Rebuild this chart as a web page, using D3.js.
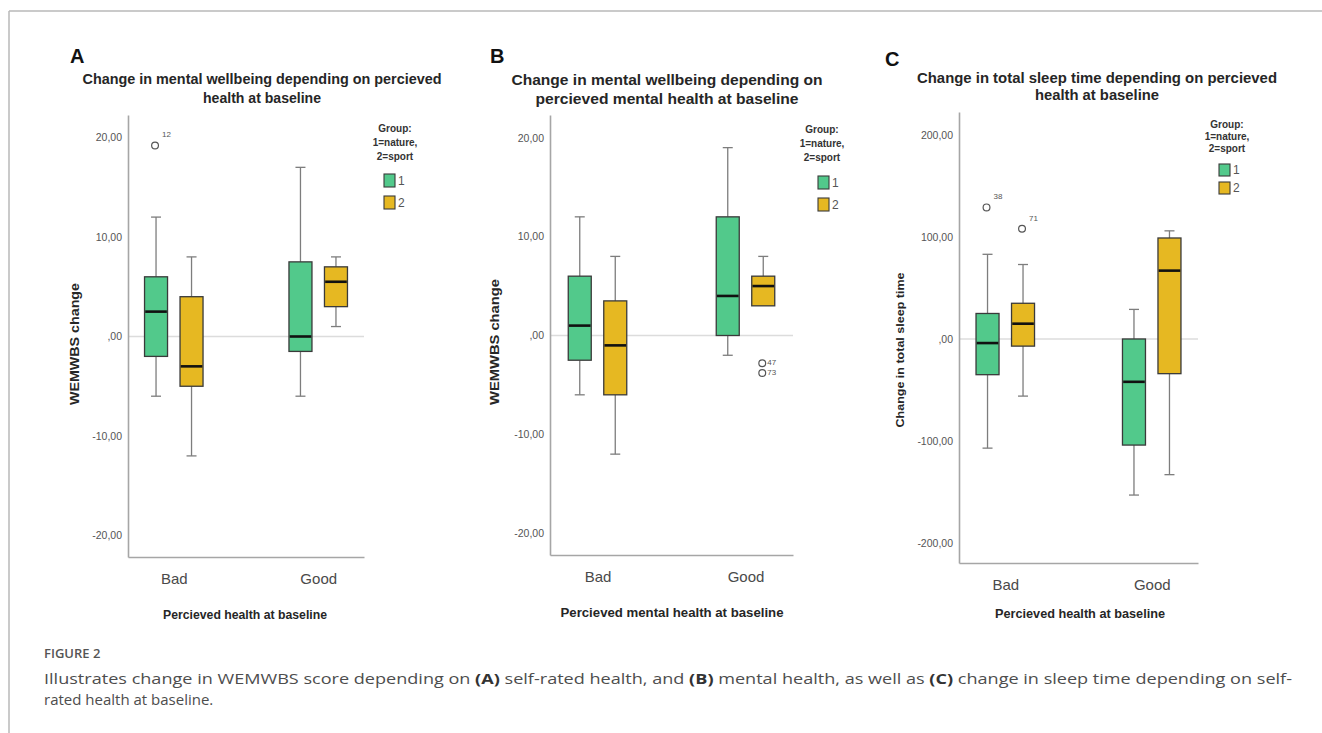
<!DOCTYPE html>
<html>
<head>
<meta charset="utf-8">
<script src="https://cdn.jsdelivr.net/npm/d3@7"></script>
<style>
  body { margin: 0; background: #fff; }
  svg { display: block; }
</style>
</head>
<body>
<svg id="fig" width="1322" height="733"></svg>
<script>
// ---- data ----
const categories = ["Bad", "Good"];
const groups = ["1", "2"];
const groupColors = ["#52c98b", "#e6b822"];
const legendTitle = ["Group:", "1=nature,", "2=sport"];

const wellbeingTicks = [-20, -10, 0, 10, 20];
const wellbeingTickLabels = ["-20,00", "-10,00", ",00", "10,00", "20,00"];
const sleepTicks = [-200, -100, 0, 100, 200];
const sleepTickLabels = ["-200,00", "-100,00", ",00", "100,00", "200,00"];

// [category, group, lower whisker, Q1, median, Q3, upper whisker]
const boxesA = [
  ["Bad", "1", -6, -2, 2.5, 6, 12],
  ["Bad", "2", -12, -5, -3, 4, 8],
  ["Good", "1", -6, -1.5, 0, 7.5, 17],
  ["Good", "2", 1, 3, 5.5, 7, 8]
];
// [category, group, value, case label]
const outliersA = [["Bad", "1", 19.2, "12"]];

const boxesB = [
  ["Bad", "1", -6, -2.5, 1, 6, 12],
  ["Bad", "2", -12, -6, -1, 3.5, 8],
  ["Good", "1", -2, 0, 4, 12, 19],
  ["Good", "2", 3, 3, 5, 6, 8]
];
const outliersB = [["Good", "2", -2.8, "47"], ["Good", "2", -3.8, "73"]];

const boxesC = [
  ["Bad", "1", -107, -35, -4, 25, 83],
  ["Bad", "2", -56, -7, 15, 35, 73],
  ["Good", "1", -153, -104, -42, 0, 29],
  ["Good", "2", -133, -34, 67, 99, 106]
];
const outliersC = [["Bad", "1", 129, "38"], ["Bad", "2", 108, "71"]];

// ---- drawing ----
const svg = d3.select("#fig");
const FONT = "'Liberation Sans', Arial, sans-serif";

// figure frame
svg.append("line").attr("x1", 9).attr("x2", 1322).attr("y1", 11).attr("y2", 11)
  .attr("stroke", "#b8b8b8").attr("stroke-width", 1.5);
svg.append("line").attr("x1", 9).attr("x2", 9).attr("y1", 11).attr("y2", 733)
  .attr("stroke", "#b8b8b8").attr("stroke-width", 1.5);

const panels = [
  {
    letter: "A", letterX: 70, letterY: 63,
    title: ["Change in mental wellbeing depending on percieved", "health at baseline"],
    titleLen: [359, 118], titleX: 262, titleY: [84, 103],
    left: 128, right: 364, top: 115, bottom: 557, pad: 0.317,
    yDomain: [-22.16, 22.26], ticks: wellbeingTicks, tickLabels: wellbeingTickLabels,
    yTitle: "WEMWBS change", yTitleX: 75, yTitleY: 344, yTitleLen: 122, yTitleSize: 13,
    xTitle: "Percieved health at baseline", xTitleLen: 164, xTitleX: 245, xTitleY: 619,
    legendX: 395, legendY: [132, 146, 160], swX: 384, swY: [174, 196], swH: 13,
    boxes: boxesA, outliers: outliersA, labelDx: 7, labelDy: -8
  },
  {
    letter: "B", letterX: 490, letterY: 63,
    title: ["Change in mental wellbeing depending on", "percieved mental health at baseline"],
    titleLen: [311, 263], titleX: 667, titleY: [85, 104],
    left: 550, right: 793, top: 115, bottom: 555, pad: 0.321,
    yDomain: [-22.2, 22.3], ticks: wellbeingTicks, tickLabels: wellbeingTickLabels,
    yTitle: "WEMWBS change", yTitleX: 495, yTitleY: 342, yTitleLen: 126, yTitleSize: 13,
    xTitle: "Percieved mental health at baseline", xTitleLen: 223, xTitleX: 672, xTitleY: 617,
    legendX: 822, legendY: [133, 147, 161], swX: 818, swY: [176, 198], swH: 13,
    boxes: boxesB, outliers: outliersB, labelDx: 5, labelDy: 2
  },
  {
    letter: "C", letterX: 885, letterY: 66,
    title: ["Change in total sleep time depending on percieved", "health at baseline"],
    titleLen: [360, 124], titleX: 1097, titleY: [83, 100],
    left: 959, right: 1198, top: 112, bottom: 563, pad: 0.316,
    yDomain: [-219.6, 222.5], ticks: sleepTicks, tickLabels: sleepTickLabels,
    yTitle: "Change in total sleep time", yTitleX: 900, yTitleY: 350, yTitleLen: 155, yTitleSize: 11.5,
    xTitle: "Percieved health at baseline", xTitleLen: 170, xTitleX: 1080, xTitleY: 618,
    legendX: 1227, legendY: [128, 140, 152], swX: 1219, swY: [164, 182], swH: 12,
    boxes: boxesC, outliers: outliersC, labelDx: 7, labelDy: -8
  }
];

function drawPanel(p) {
  const g = svg.append("g");
  const y = d3.scaleLinear().domain(p.yDomain).range([p.bottom, p.top]);
  const x = d3.scalePoint().domain(categories).range([p.left, p.right]).padding(p.pad);
  const sub = d3.scalePoint().domain(groups).range([-17.75, 17.75]);
  const color = d3.scaleOrdinal().domain(groups).range(groupColors);
  const bw = 23, cap = 10;
  const cx = d => x(d[0]) + sub(d[1]);

  // panel letter
  g.append("text").attr("x", p.letterX).attr("y", p.letterY)
    .attr("font-family", "Arial, 'Liberation Sans', sans-serif").attr("font-weight", "bold")
    .attr("font-size", 20).attr("fill", "#111").text(p.letter);

  // title
  p.title.forEach((t, i) => {
    g.append("text").attr("x", p.titleX).attr("y", p.titleY[i])
      .attr("text-anchor", "middle").attr("font-family", FONT).attr("font-weight", "bold")
      .attr("font-size", 15).attr("fill", "#262626")
      .attr("textLength", p.titleLen[i]).attr("lengthAdjust", "spacingAndGlyphs").text(t);
  });

  // zero reference line
  g.append("line").attr("x1", p.left).attr("x2", p.right)
    .attr("y1", y(0)).attr("y2", y(0)).attr("stroke", "#dcdcdc").attr("stroke-width", 1.3);

  // axes
  const yAxis = g.append("g").attr("transform", `translate(${p.left},0)`)
    .call(d3.axisLeft(y).tickValues(p.ticks).tickFormat((d, i) => p.tickLabels[i])
      .tickSize(0).tickSizeOuter(0).tickPadding(6));
  yAxis.select(".domain").attr("stroke", "#a6a6a6").attr("stroke-width", 1.6);
  yAxis.selectAll("text").attr("font-family", FONT).attr("font-size", 10.5).attr("fill", "#555");

  const xAxis = g.append("g").attr("transform", `translate(0,${p.bottom})`)
    .call(d3.axisBottom(x).tickSize(0).tickSizeOuter(0).tickPadding(16));
  xAxis.select(".domain").attr("stroke", "#a6a6a6").attr("stroke-width", 1.6);
  xAxis.selectAll("text").attr("font-family", FONT).attr("font-size", 15).attr("fill", "#4a4a4a");

  // axis titles
  g.append("text").attr("x", p.xTitleX).attr("y", p.xTitleY).attr("text-anchor", "middle")
    .attr("font-family", FONT).attr("font-weight", "bold").attr("font-size", 13)
    .attr("fill", "#262626").attr("textLength", p.xTitleLen).attr("lengthAdjust", "spacingAndGlyphs")
    .text(p.xTitle);
  g.append("text").attr("transform", `translate(${p.yTitleX + 4},${p.yTitleY}) rotate(-90)`)
    .attr("text-anchor", "middle").attr("font-family", FONT).attr("font-weight", "bold")
    .attr("font-size", p.yTitleSize).attr("fill", "#262626")
    .attr("textLength", p.yTitleLen).attr("lengthAdjust", "spacingAndGlyphs").text(p.yTitle);

  // whiskers
  const wk = g.append("g").attr("stroke", "#7d7d7d").attr("stroke-width", 1.3);
  p.boxes.forEach(d => {
    const c = cx(d);
    if (d[6] > d[5]) {
      wk.append("line").attr("x1", c).attr("x2", c).attr("y1", y(d[6])).attr("y2", y(d[5]));
      wk.append("line").attr("x1", c - cap / 2).attr("x2", c + cap / 2).attr("y1", y(d[6])).attr("y2", y(d[6]));
    }
    if (d[2] < d[3]) {
      wk.append("line").attr("x1", c).attr("x2", c).attr("y1", y(d[3])).attr("y2", y(d[2]));
      wk.append("line").attr("x1", c - cap / 2).attr("x2", c + cap / 2).attr("y1", y(d[2])).attr("y2", y(d[2]));
    }
  });

  // boxes
  g.selectAll("rect.box").data(p.boxes).join("rect").attr("class", "box")
    .attr("x", d => cx(d) - bw / 2).attr("width", bw)
    .attr("y", d => y(d[5])).attr("height", d => y(d[3]) - y(d[5]))
    .attr("fill", d => color(d[1])).attr("stroke", "#3a3a3a").attr("stroke-width", 1.3);

  // medians
  g.selectAll("line.med").data(p.boxes).join("line").attr("class", "med")
    .attr("x1", d => cx(d) - bw / 2 + 0.7).attr("x2", d => cx(d) + bw / 2 - 0.7)
    .attr("y1", d => y(d[4])).attr("y2", d => y(d[4]))
    .attr("stroke", "#111").attr("stroke-width", 2.6);

  // outliers
  p.outliers.forEach(o => {
    const c = x(o[0]) + sub(o[1]) - 1;
    g.append("circle").attr("cx", c).attr("cy", y(o[2])).attr("r", 3.4)
      .attr("fill", "none").attr("stroke", "#555").attr("stroke-width", 1.2);
    g.append("text").attr("x", c + p.labelDx).attr("y", y(o[2]) + p.labelDy)
      .attr("font-family", FONT).attr("font-size", 8).attr("fill", "#555").text(o[3]);
  });

  // legend
  legendTitle.forEach((t, i) => {
    g.append("text").attr("x", p.legendX).attr("y", p.legendY[i]).attr("text-anchor", "middle")
      .attr("font-family", FONT).attr("font-weight", "bold").attr("font-size", 10)
      .attr("fill", "#333").text(t);
  });
  groups.forEach((grp, i) => {
    g.append("rect").attr("x", p.swX).attr("y", p.swY[i]).attr("width", 11).attr("height", p.swH)
      .attr("fill", color(grp)).attr("stroke", "#3a3a3a").attr("stroke-width", 1.1);
    g.append("text").attr("x", p.swX + 14).attr("y", p.swY[i] + p.swH - 2)
      .attr("font-family", FONT).attr("font-size", 12).attr("fill", "#555").text(grp);
  });
}

panels.forEach(drawPanel);

// caption
const cap = svg.append("g").attr("font-family", "'Open Sans', 'Noto Sans', sans-serif");
cap.append("text").attr("x", 44).attr("y", 658).attr("font-size", 13).attr("font-weight", 600)
  .attr("fill", "#555").text("FIGURE 2");
const line1 = cap.append("text").attr("x", 44).attr("y", 684).attr("font-size", 15)
  .attr("fill", "#4d4d4d").attr("textLength", 1248).attr("lengthAdjust", "spacingAndGlyphs");
[
  ["Illustrates change in WEMWBS score depending on ", false], ["(A)", true],
  [" self-rated health, and ", false], ["(B)", true],
  [" mental health, as well as ", false], ["(C)", true],
  [" change in sleep time depending on self-", false]
].forEach(([t, b]) => {
  line1.append("tspan").attr("font-weight", b ? 700 : 400).attr("fill", b ? "#333" : "#4d4d4d").text(t);
});
cap.append("text").attr("x", 44).attr("y", 705).attr("font-size", 15).attr("fill", "#4d4d4d")
  .text("rated health at baseline.");
</script>
</body>
</html>
